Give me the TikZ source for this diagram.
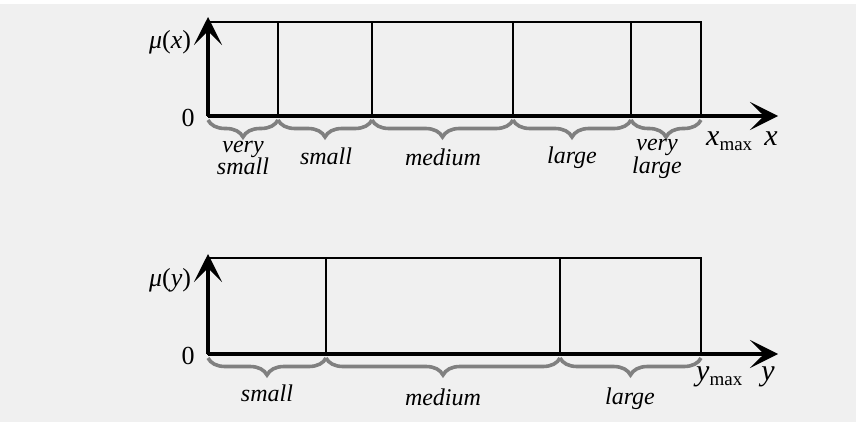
\documentclass[tikz,border=0pt]{standalone}
\usepackage{fontspec}
\setmainfont{Liberation Serif}
\usetikzlibrary{arrows.meta,decorations.pathreplacing}
\definecolor{paper}{HTML}{F0F0F0}
\definecolor{bracegray}{HTML}{808080}
\tikzset{
  x=1pt, y=-1pt,
  axis/.style={line width=3.2pt, -{Stealth[length=28pt,width=28pt,inset=14pt]}},
  cell/.style={line width=1.6pt},
  setbrace/.style={decorate, decoration={brace, mirror, amplitude=17pt, aspect=0.5},
                   draw=bracegray, line width=3.6pt},
  lbl/.style={font=\fontsize{24}{19}\selectfont\itshape, align=center, inner sep=0pt},
  axlbl/.style={font=\fontsize{26}{26}\selectfont, inner sep=0pt},
  bigvar/.style={font=\fontsize{30}{30}\selectfont, inner sep=0pt},
}
\newcommand{\subsc}[1]{{\fontsize{19}{19}\selectfont\raisebox{-5pt}{#1}}}
\begin{document}
\begin{tikzpicture}
  \fill[paper] (0,0) rectangle (856,422);
  \fill[white] (0,0) rectangle (856,4);
  \useasboundingbox (0,0) rectangle (856,422);

  % ---------- membership of x ----------
  \coordinate (o1) at (208,116);
  \coordinate (a1) at (278,116);
  \coordinate (b1) at (372,116);
  \coordinate (c1) at (513,116);
  \coordinate (d1) at (631,116);
  \coordinate (e1) at (701,116);
  \coordinate (xe) at (778,116);
  \coordinate (ye1) at (208,17);
  \draw[cell] (208,22) rectangle (701,116);
  \foreach \xx in {278,372,513,631} \draw[cell] (\xx,22) -- (\xx,116);
  \draw[axis] (o1) -- (xe);
  \draw[axis] (o1) -- (ye1);

  \draw[setbrace] ([yshift=-4pt]o1) -- ([yshift=-4pt]a1);
  \draw[setbrace] ([yshift=-4pt]a1) -- ([yshift=-4pt]b1);
  \draw[setbrace] ([yshift=-4pt]b1) -- ([yshift=-4pt]c1);
  \draw[setbrace] ([yshift=-4pt]c1) -- ([yshift=-4pt]d1);
  \draw[setbrace] ([yshift=-4pt]d1) -- ([yshift=-4pt]e1);

  \node[axlbl] (mux) at (170,42) {\textit{μ}(\textit{x})};
  \node[axlbl] (z1) at (188,118) {0};
  \node[bigvar, anchor=base west] (xmax) at (706,146) {\textit{x}\subsc{max}};
  \node[bigvar, anchor=base] (xl) at (771,146) {\textit{x}};

  \node[lbl] (vs) at (243,158) {very\\small};
  \node[lbl] (s1) at (326,156) {small};
  \node[lbl] (m1) at (443,157) {medium};
  \node[lbl] (l1) at (572,158) {large};
  \node[lbl] (vl) at (657,159) {very\\large};

  % ---------- membership of y ----------
  \coordinate (o2) at (208,354);
  \coordinate (a2) at (326,354);
  \coordinate (b2) at (560,354);
  \coordinate (e2) at (701,354);
  \coordinate (ye) at (778,354);
  \coordinate (ye2) at (208,254);
  \draw[cell] (208,258) rectangle (701,354);
  \foreach \xx in {326,560} \draw[cell] (\xx,258) -- (\xx,354);
  \draw[axis] (o2) -- (ye);
  \draw[axis] (o2) -- (ye2);

  \draw[setbrace] ([yshift=-4pt]o2) -- ([yshift=-4pt]a2);
  \draw[setbrace] ([yshift=-4pt]a2) -- ([yshift=-4pt]b2);
  \draw[setbrace] ([yshift=-4pt]b2) -- ([yshift=-4pt]e2);

  \node[axlbl] (muy) at (170,280) {\textit{μ}(\textit{y})};
  \node[axlbl] (z2) at (188,356) {0};
  \node[bigvar, anchor=base west] (ymax) at (696,380) {\textit{y}\subsc{max}};
  \node[bigvar, anchor=base] (yl) at (768,380) {\textit{y}};

  \node[lbl] (s2) at (267,393) {small};
  \node[lbl] (m2) at (443,397) {medium};
  \node[lbl] (l2) at (630,399) {large};
\end{tikzpicture}
\end{document}
